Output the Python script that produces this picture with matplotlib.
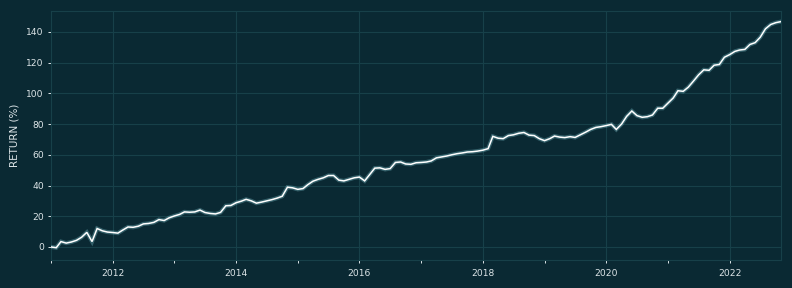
import matplotlib
matplotlib.use("Agg")
import matplotlib.pyplot as plt
import matplotlib.dates as mdates
import matplotlib.patheffects as pe
import pandas as pd

# Monthly cumulative return (%), Jan 2011 .. Nov 2022
returns = [
    0, -0.5, 3.5, 2.5, 3.2, 4.3, 6.3, 9.5, 3.5, 12, 10.5, 9.7,
    9.4, 9, 11, 13, 12.8, 13.5, 15, 15.3, 16, 17.8, 17.2, 19,
    20.2, 21.2, 22.8, 22.6, 22.8, 24, 22.4, 21.8, 21.5, 22.5, 26.8, 27,
    28.8, 29.8, 31, 30, 28.5, 29.2, 30, 30.8, 31.8, 33, 38.9, 38.5,
    37.5, 38, 40.5, 42.8, 44, 45, 46.5, 46.5, 43.5, 43, 44, 45,
    45.5, 43, 47, 51.3, 51.5, 50.5, 51, 55, 55.3, 54, 53.8, 54.8,
    55, 55.3, 56, 58, 58.6, 59.2, 60, 60.7, 61.2, 61.8, 62, 62.4,
    63, 64, 72, 70.8, 70.5, 72.5, 73, 74, 74.5, 72.8, 72.5, 70.5,
    69.2, 70.5, 72.2, 71.5, 71.2, 71.8, 71.3, 73, 74.7, 76.5, 77.8, 78.3,
    79, 79.8, 76.5, 80, 85, 88.5, 85.5, 84.4, 84.8, 85.9, 90.3, 90.3,
    93.6, 97, 101.7, 101.3, 104, 108, 112, 115.3, 115, 118.3, 118.8, 123.5,
    125.2, 127.3, 128.2, 128.6, 131.8, 133, 136.5, 142, 144.8, 146, 146.7,
]
dates = pd.date_range("2011-01-01", periods=len(returns), freq="MS")
y_ticks = [0, 20, 40, 60, 80, 100, 120, 140]
y_label = "RETURN (%)"

BG = "#0a2933"
GRID = "#174049"
TXT = "#dde5e8"

fig = plt.figure(figsize=(7.92, 2.88), dpi=100, facecolor=BG)
ax = fig.add_axes([0.0644, 0.0972, 0.9217, 0.8646], facecolor=BG)

ax.plot(dates, returns, color="white", lw=1.1, zorder=3,
        solid_joinstyle="miter",
        path_effects=[pe.Stroke(linewidth=3.0, foreground="#8fdbe6", alpha=0.3),
                      pe.Normal()])

ax.set_xlim(dates[0], dates[-1])
ax.set_ylim(-8.5, 153.6)
ax.set_yticks(y_ticks)

ax.xaxis.set_major_locator(mdates.YearLocator(2))
ax.xaxis.set_major_formatter(mdates.DateFormatter("%Y"))
ax.xaxis.set_minor_locator(mdates.YearLocator(1))

ax.grid(True, which="major", color=GRID, lw=0.8)
for s in ax.spines.values():
    s.set_color(GRID)
    s.set_linewidth(0.8)

ax.tick_params(axis="both", which="both", colors=TXT, labelsize=6.6,
               length=2.2, width=0.7, pad=3)
ax.tick_params(axis="x", which="major", pad=4)
ax.set_ylabel(y_label, color=TXT, fontsize=7.5, labelpad=5)

fig.savefig("out.png", dpi=100, facecolor=BG)
